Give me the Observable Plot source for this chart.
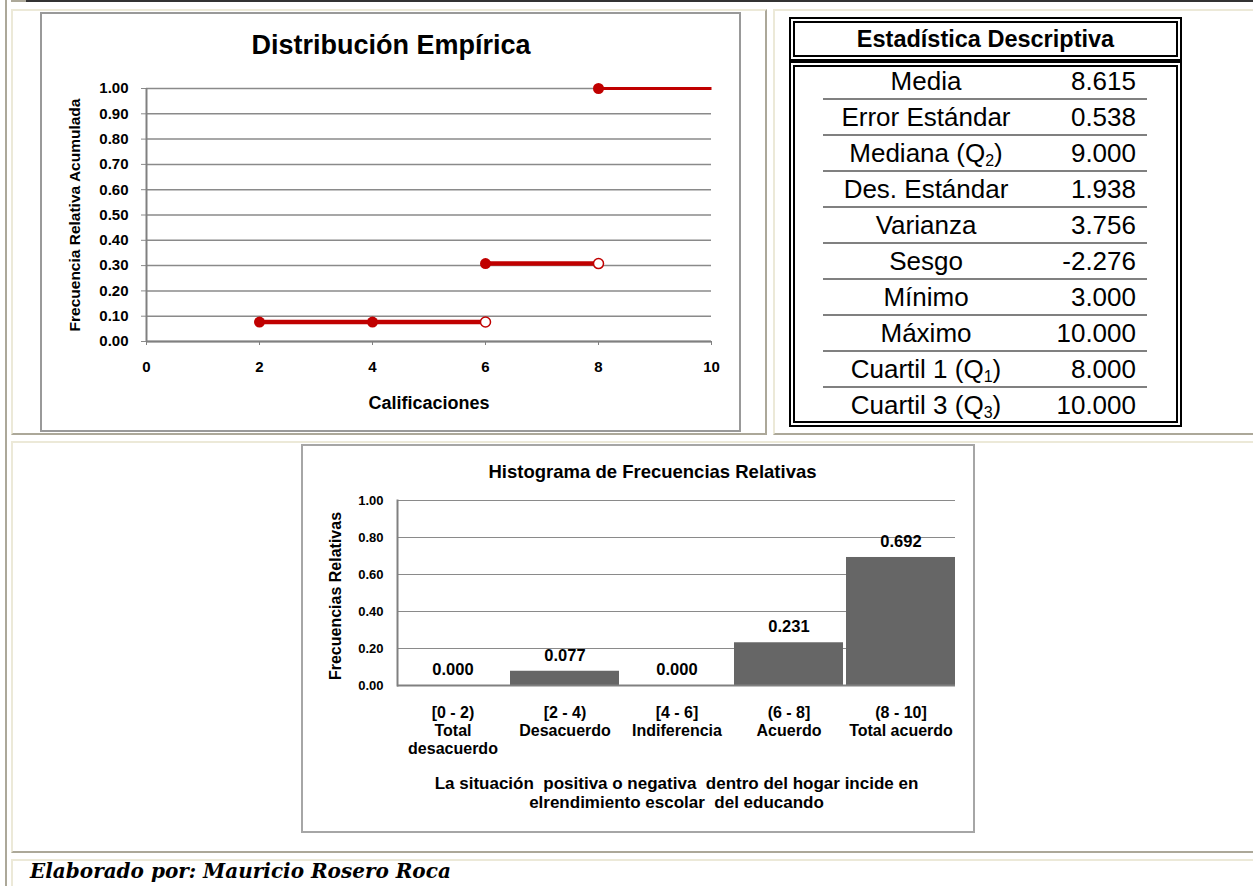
<!DOCTYPE html>
<html><head><meta charset="utf-8">
<script src="https://cdn.jsdelivr.net/npm/d3@7"></script>
<script src="https://cdn.jsdelivr.net/npm/@observablehq/plot@0.6"></script>
<style>
html,body{margin:0;padding:0;background:#fff;width:1253px;height:886px;overflow:hidden;font-family:"Liberation Sans",Arial,sans-serif;}
#root{position:relative;width:1253px;height:886px;overflow:hidden;}
.abs{position:absolute;box-sizing:border-box;}
.cell{position:absolute;box-sizing:border-box;border-top:2px solid #ECE9D8;border-left:2px solid #ECE9D8;border-right:2px solid #ACA899;border-bottom:2px solid #ACA899;}
.hdr{border:6px double #000;display:flex;align-items:center;justify-content:center;font-weight:bold;font-size:23.5px;color:#000;}
.row{position:absolute;height:36px;font-size:26px;color:#000;}
.lbl{position:absolute;left:0;width:206px;text-align:center;line-height:36px;white-space:nowrap;}
.val{position:absolute;right:0;text-align:right;line-height:36px;white-space:nowrap;}
sub{font-size:16px;vertical-align:-4px;line-height:0;}
.sep{position:absolute;height:2px;background:#808080;}
</style></head><body>
<div id="root">
  <div class="abs" style="left:5px;top:0;width:2px;height:886px;background:#ACA899"></div>
  <div class="abs" style="left:11px;top:0;width:15px;height:2px;background:#ACA899"></div>
  <div class="abs" style="left:26px;top:0;width:1227px;height:2px;background:#333"></div>
  <div class="cell" style="left:11px;top:9px;width:756px;height:426px"></div>
  <div class="cell" style="left:773px;top:9px;width:490px;height:426px"></div>
  <div class="cell" style="left:11px;top:441px;width:1250px;height:412px"></div>
  <div class="cell" style="left:11px;top:859px;width:1250px;height:40px"></div>
  <div class="abs" style="left:40px;top:12px;width:701px;height:420px;border:2px solid #999"></div>
  <div class="abs" id="emp" style="left:40px;top:12px;"></div>
  <div class="abs hdr" id="thdr" style="left:789px;top:17px;width:393px;height:44px"></div>
  <div class="abs" id="tbody" style="left:789px;top:61px;width:393px;height:366px;border:6px double #000"></div>
  <div class="abs" style="left:301px;top:444px;width:674px;height:389px;border:2px solid #A6A6A6"></div>
  <div class="abs" id="hist" style="left:301px;top:444px;"></div>
  <div class="abs" id="foot" style="left:30px;top:859px;font-family:'DejaVu Serif',serif;font-weight:bold;font-style:italic;font-size:20px;color:#000;white-space:nowrap;"></div>
</div>
<script>
// ---------- Data ----------
const empTitle = "Distribución Empírica";
const empXLabel = "Calificaciones";
const empYLabel = "Frecuencia Relativa Acumulada";
const empXTicks = [0, 2, 4, 6, 8, 10];
const empYTicks = [0, 0.1, 0.2, 0.3, 0.4, 0.5, 0.6, 0.7, 0.8, 0.9, 1.0];
const stepStart = [2, 4, 6, 8];
const stepEnd = [4, 6, 8, 10];
const stepCum = [0.077, 0.077, 0.308, 1.000];
const openX = [6, 8];
const openY = [0.077, 0.308];

const tableTitle = "Estadística Descriptiva";
const statLabels = ["Media", "Error Estándar", "Mediana (Q<sub>2</sub>)", "Des. Estándar", "Varianza", "Sesgo", "Mínimo", "Máximo", "Cuartil 1 (Q<sub>1</sub>)", "Cuartil 3 (Q<sub>3</sub>)"];
const statValues = [8.615, 0.538, 9.000, 1.938, 3.756, -2.276, 3.000, 10.000, 8.000, 10.000];

const histTitle = "Histograma de Frecuencias Relativas";
const histYLabel = "Frecuencias Relativas";
const histXLabel = "La situación  positiva o negativa  dentro del hogar incide en\nelrendimiento escolar  del educando";
const histClasses = ["[0 - 2)\nTotal\ndesacuerdo", "[2 - 4)\nDesacuerdo", "[4 - 6]\nIndiferencia", "(6 - 8]\nAcuerdo", "(8 - 10]\nTotal acuerdo"];
const histFreq = [0.000, 0.077, 0.000, 0.231, 0.692];
const histYTicks = [0, 0.2, 0.4, 0.6, 0.8, 1.0];

const footer = "Elaborado por: Mauricio Rosero Roca";

const FONT = "'Liberation Sans', Arial, sans-serif";
const RED = "#C00000";

// ---------- Empirical distribution ----------
const steps = d3.range(stepStart.length);
const opens = d3.range(openX.length);
const emp = Plot.plot({
  width: 701, height: 420,
  marginLeft: 106, marginRight: 30, marginTop: 76, marginBottom: 91,
  x: {domain: [0, 10]},
  y: {domain: [0, 1]},
  style: {fontFamily: FONT, fontWeight: "bold", fontSize: "15px", color: "#000", background: "transparent", overflow: "visible"},
  marks: [
    Plot.gridY(empYTicks, {stroke: "#8a8a8a", strokeOpacity: 1, strokeWidth: 1.5}),
    Plot.axisY({ticks: empYTicks, tickFormat: ".2f", tickSize: 5, tickPadding: 13, stroke: "#8a8a8a", label: null, fontSize: 15, fontWeight: "bold"}),
    Plot.axisX({ticks: empXTicks, tickSize: 4, tickPadding: 16, stroke: "#808080", label: null, fontSize: 15, fontWeight: "bold"}),
    Plot.ruleY([0], {stroke: "#808080", strokeWidth: 2}),
    Plot.ruleX([0], {stroke: "#808080", strokeWidth: 2}),
    Plot.link(steps, {x1: i => stepStart[i], x2: i => stepEnd[i], y1: i => stepCum[i], y2: i => stepCum[i], stroke: RED, strokeWidth: i => (stepCum[i] >= 1 ? 3 : 4.5)}),
    Plot.dot(steps, {x: i => stepStart[i], y: i => stepCum[i], r: 5.5, fill: RED, stroke: null}),
    Plot.dot(opens, {x: i => openX[i], y: i => openY[i], r: 5, fill: "#fff", stroke: RED, strokeWidth: 1.5}),
    Plot.text([empTitle], {text: d => d, frameAnchor: "top", dx: -38, dy: -43, fontSize: 27, fontWeight: "bold", textAnchor: "middle", lineAnchor: "middle"}),
    Plot.text([empXLabel], {text: d => d, frameAnchor: "bottom", dy: 62, fontSize: 18, fontWeight: "bold", textAnchor: "middle", lineAnchor: "middle"}),
    Plot.text([empYLabel], {text: d => d, frameAnchor: "left", dx: -71, rotate: -90, fontSize: 15.5, fontWeight: "bold", textAnchor: "middle", lineAnchor: "middle"})
  ]
});
document.getElementById("emp").appendChild(emp);

// ---------- Descriptive statistics table ----------
document.getElementById("thdr").textContent = tableTitle;
const tb = document.getElementById("tbody");
statLabels.forEach((lab, i) => {
  const row = document.createElement("div");
  row.className = "row";
  row.style.left = "28px"; row.style.width = "313px";
  row.style.top = (36 * i - 4) + "px";
  const l = document.createElement("div"); l.className = "lbl"; l.innerHTML = lab;
  const v = document.createElement("div"); v.className = "val"; v.textContent = statValues[i].toFixed(3);
  row.appendChild(l); row.appendChild(v);
  tb.appendChild(row);
  if (i < statLabels.length - 1) {
    const s = document.createElement("div");
    s.className = "sep";
    s.style.left = "28px"; s.style.width = "324px";
    s.style.top = (36 * i + 31) + "px";
    tb.appendChild(s);
  }
});

// ---------- Histogram ----------
const bins = d3.range(histClasses.length);
const hist = Plot.plot({
  width: 674, height: 389,
  marginLeft: 96, marginRight: 20, marginTop: 56, marginBottom: 148,
  x: {domain: histClasses, paddingInner: 0.03, paddingOuter: 0},
  y: {domain: [0, 1]},
  style: {fontFamily: FONT, fontWeight: "bold", fontSize: "13px", color: "#000", background: "transparent", overflow: "visible"},
  marks: [
    Plot.gridY(histYTicks, {stroke: "#8a8a8a", strokeOpacity: 1, strokeWidth: 1.2}),
    Plot.axisY({ticks: histYTicks, tickFormat: ".2f", tickSize: 0, tickPadding: 14, label: null, fontSize: 13, fontWeight: "bold"}),
    Plot.axisX({tickSize: 0, tickPadding: 20, label: null, fontSize: 16, fontWeight: "bold", lineHeight: 1.13}),
    Plot.barY(bins, {x: i => histClasses[i], y: i => histFreq[i], fill: "#666666"}),
    Plot.ruleY([0], {stroke: "#808080", strokeWidth: 2}),
    Plot.frame({anchor: "left", stroke: "#808080", strokeWidth: 2}),
    Plot.text(bins, {x: i => histClasses[i], y: i => histFreq[i], text: i => histFreq[i].toFixed(3), dy: -16, fontSize: 16.5, fontWeight: "bold"}),
    Plot.text([histTitle], {text: d => d, frameAnchor: "top", dx: -24, dy: -28, fontSize: 18.5, fontWeight: "bold", textAnchor: "middle", lineAnchor: "middle"}),
    Plot.text([histXLabel], {text: d => d, frameAnchor: "bottom", dy: 106.5, fontSize: 17, fontWeight: "bold", textAnchor: "middle", lineAnchor: "middle", lineHeight: 1.12}),
    Plot.text([histYLabel], {text: d => d, frameAnchor: "left", dx: -62, dy: 3, rotate: -90, fontSize: 16, fontWeight: "bold", textAnchor: "middle", lineAnchor: "middle"})
  ]
});
document.getElementById("hist").appendChild(hist);

document.getElementById("foot").textContent = footer;
</script>
</body></html>
